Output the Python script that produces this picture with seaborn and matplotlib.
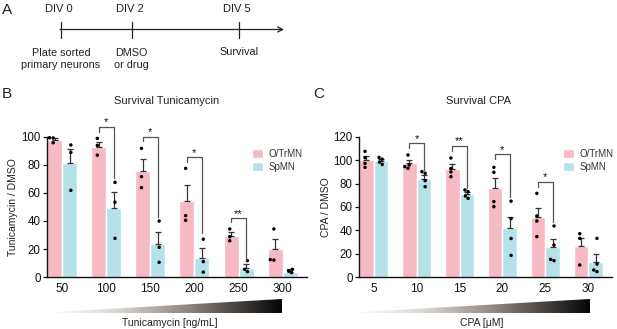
import numpy as np
import pandas as pd
import seaborn as sns
from matplotlib import pyplot as plt
from matplotlib.colors import LinearSegmentedColormap
from matplotlib.patches import Polygon

# ---- data ----
cells = ["O/TrMN", "SpMN"]
colors = ["#F7B9C3", "#B4E2E8"]

tm_doses = ["50", "100", "150", "200", "250", "300"]
tm_mean_o = [97.9, 93.1, 75.7, 54.0, 29.0, 19.8]
tm_sem_o = [1.2, 3.6, 8.6, 12.0, 3.1, 7.3]
tm_mean_sp = [81.7, 49.0, 23.6, 13.5, 6.4, 3.6]
tm_sem_sp = [9.7, 12.0, 8.5, 7.0, 3.0, 1.9]
tm_dots_o = [[99.5, 99.3, 95.9], [99.0, 94.0, 87.0], [91.9, 71.7, 63.8],
             [77.6, 43.8, 40.5], [34.3, 28.8, 25.9], [34.3, 12.4, 12.1]]
tm_dots_sp = [[94.3, 89.0, 61.9], [67.6, 53.4, 27.6], [40.0, 21.2, 10.5],
              [27.0, 11.0, 3.5], [11.7, 5.5, 3.8], [5.5, 4.5, 3.1]]
tm_sig_idx = [1, 2, 3, 4]
tm_sig_top = [107.4, 100.2, 85.8, 41.9]
tm_sig_left = [103.8, 97.4, 82.4, 39.5]
tm_sig_right = [70.5, 43.0, 31.2, 12.1]
tm_sig_label = ["*", "*", "*", "**"]

cpa_doses = ["5", "10", "15", "20", "25", "30"]
cpa_mean_o = [100.3, 97.4, 92.6, 76.3, 51.7, 26.6]
cpa_sem_o = [3.4, 2.9, 4.0, 8.3, 7.7, 6.5]
cpa_mean_sp = [99.4, 84.0, 70.9, 41.7, 26.0, 12.9]
cpa_sem_sp = [1.5, 3.4, 2.2, 10.0, 6.3, 6.8]
cpa_dots_o = [[107.7, 102.3, 97.4, 94.0], [104.6, 96.0, 94.6, 93.2],
              [102.0, 93.0, 90.0, 86.0], [94.0, 89.7, 64.6, 60.3],
              [71.7, 52.3, 48.0, 34.6], [37.1, 33.1, 10.3]]
cpa_dots_sp = [[102.5, 101.0, 98.5, 96.5], [90.3, 88.9, 82.6, 77.4],
               [74.6, 73.1, 69.4, 67.4], [65.0, 50.0, 33.0, 18.5],
               [43.7, 27.4, 15.1, 14.0], [33.1, 11.1, 6.0, 4.6]]
cpa_sig_idx = [1, 2, 3, 4]
cpa_sig_top = [114.6, 112.6, 105.1, 81.7]
cpa_sig_left = [110.3, 108.3, 100.9, 77.4]
cpa_sig_right = [91.7, 76.6, 68.3, 47.4]
cpa_sig_label = ["*", "**", "*", "*"]

sns.set_theme(style="ticks")
plt.rcParams["font.family"] = ["Liberation Sans", "DejaVu Sans"]
plt.rcParams["text.color"] = "#222222"

W, H = 617, 329
fig = plt.figure(figsize=(W / 100, H / 100), dpi=100)


def px_axes(x0, y0, x1, y1):
    return fig.add_axes([x0 / W, 1 - y1 / H, (x1 - x0) / W, (y1 - y0) / H])


def draw_panel(ax, doses, mean_o, sem_o, mean_sp, sem_sp, dots_o, dots_sp,
               sig_idx, sig_top, sig_left, sig_right, sig_label,
               ymax, ystep, ylabel, leg_x):
    n = len(doses)
    bars = pd.DataFrame({"dose": doses * 2,
                         "cell": [cells[0]] * n + [cells[1]] * n,
                         "value": mean_o + mean_sp})
    sns.barplot(bars, x="dose", y="value", hue="cell", order=doses,
                hue_order=cells, palette=colors, width=0.68, saturation=1,
                errorbar=None, ax=ax)
    centers = []
    for cont, sem in zip(ax.containers, [sem_o, sem_sp]):
        xs = [p.get_x() + p.get_width() / 2 for p in cont]
        hs = [p.get_height() for p in cont]
        centers.append(xs)
        ax.errorbar(xs, hs, yerr=[np.zeros(n), sem], fmt="none",
                    ecolor="#333333", elinewidth=0.9, capsize=2.5,
                    capthick=0.9, clip_on=False, zorder=3)

    rows = []
    for d, vo, vs in zip(doses, dots_o, dots_sp):
        rows += [(d, cells[0], v) for v in vo]
        rows += [(d, cells[1], v) for v in vs]
    dots = pd.DataFrame(rows, columns=["dose", "cell", "value"])
    sns.swarmplot(dots, x="dose", y="value", hue="cell", order=doses,
                  hue_order=cells, palette=["black", "black"], dodge=True,
                  size=2.5, legend=False, ax=ax, clip_on=False, zorder=4)

    for i, top, lb, rb, lab in zip(sig_idx, sig_top, sig_left, sig_right, sig_label):
        xo, xs = centers[0][i], centers[1][i]
        ax.plot([xo, xo, xs, xs], [lb, top, top, rb], color="#555555",
                lw=0.9, clip_on=False, zorder=5)
        ax.annotate(lab, ((xo + xs) / 2, top), xytext=(0, 3),
                    textcoords="offset points", ha="center", va="center",
                    fontsize=8, color="#111111", annotation_clip=False)

    ax.set_xlim(-0.34, n - 0.45)
    ax.set_ylim(0, ymax)
    ax.set_yticks(np.arange(0, ymax + 1, ystep))
    ax.set_xlabel("")
    ax.set_ylabel(ylabel, fontsize=7.5, color="#222222")
    ax.yaxis.set_label_coords(-0.11, 0.5)
    sns.despine(ax=ax)
    for s in ["left", "bottom"]:
        ax.spines[s].set_linewidth(1.0)
        ax.spines[s].set_color("#111111")
    ax.tick_params(axis="y", length=3, width=0.9, labelsize=8.3, pad=1.5,
                   colors="#111111")
    ax.tick_params(axis="x", length=0, labelsize=8.5, pad=4.5, colors="#111111")
    ax.legend(loc="upper left", bbox_to_anchor=(leg_x, 0.95), frameon=False,
              fontsize=7, handlelength=1.1, handleheight=1.1,
              handletextpad=0.6, labelspacing=0.3, borderpad=0,
              labelcolor="#333333")


axB = px_axes(47, 137, 307, 277)
draw_panel(axB, tm_doses, tm_mean_o, tm_sem_o, tm_mean_sp, tm_sem_sp,
           tm_dots_o, tm_dots_sp, tm_sig_idx, tm_sig_top, tm_sig_left,
           tm_sig_right, tm_sig_label, 100, 20, "Tunicamycin / DMSO", 0.77)

axC = px_axes(359, 137, 612, 277)
draw_panel(axC, cpa_doses, cpa_mean_o, cpa_sem_o, cpa_mean_sp, cpa_sem_sp,
           cpa_dots_o, cpa_dots_sp, cpa_sig_idx, cpa_sig_top, cpa_sig_left,
           cpa_sig_right, cpa_sig_label, 120, 20, "CPA / DMSO", 0.787)

# dose wedges
cmap = LinearSegmentedColormap.from_list(
    "dose", [(0, "#ffffff"), (0.3, "#dcd6d0"), (0.6, "#8e8680"), (1, "#050505")])
grad = np.linspace(0, 1, 256)[None, :]
for x0, x1 in [(47, 282), (353, 590)]:
    gax = px_axes(x0, 299, x1, 313)
    im = gax.imshow(grad, cmap=cmap, extent=[0, 1, 0, 1], aspect="auto")
    wedge = Polygon([(0, 0), (1, 0), (1, 1), (0, 0.04)], closed=True,
                    transform=gax.transData, facecolor="none", edgecolor="none")
    gax.add_patch(wedge)
    im.set_clip_path(wedge)
    gax.set_xlim(0, 1)
    gax.set_ylim(0, 1)
    gax.axis("off")

# overlay for panel A, letters and titles (pixel coordinates)
ov = fig.add_axes([0, 0, 1, 1], zorder=-1)
ov.set_xlim(0, W)
ov.set_ylim(H, 0)
ov.axis("off")

ov.annotate("", xy=(284, 29.5), xytext=(60, 29.5),
            arrowprops=dict(arrowstyle="->", lw=0.9, color="#222222",
                            mutation_scale=9, shrinkA=0, shrinkB=0))
timeline = [(60.5, "DIV 0"), (132, "DIV 2"), (239, "DIV 5")]
for x, lab in timeline:
    ov.plot([x, x], [21.5, 37.5], color="#222222", lw=0.9)
    ov.text(x - 2, 9, lab, ha="center", va="center", fontsize=8)
ov.text(61, 58.5, "Plate sorted\nprimary neurons", ha="center", va="center",
        fontsize=7.8, linespacing=1.25)
ov.text(131, 58.5, "DMSO\nor drug", ha="center", va="center",
        fontsize=7.8, linespacing=1.25)
ov.text(239, 52, "Survival", ha="center", va="center", fontsize=7.8)

ov.text(7, 10.5, "A", ha="center", va="center", fontsize=11)
ov.text(7, 93.5, "B", ha="center", va="center", fontsize=11)
ov.text(319, 94.5, "C", ha="center", va="center", fontsize=11)
ov.text(167, 101, "Survival Tunicamycin", ha="center", va="center", fontsize=8)
ov.text(479, 101, "Survival CPA", ha="center", va="center", fontsize=8)
ov.text(170, 323, "Tunicamycin [ng/mL]", ha="center", va="center", fontsize=7.5)
ov.text(482, 323, "CPA [μM]", ha="center", va="center", fontsize=7.5)

fig.savefig("out.png", dpi=100)
